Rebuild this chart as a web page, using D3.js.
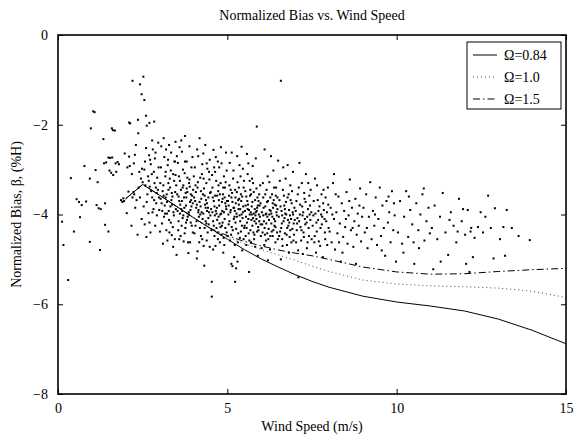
<!DOCTYPE html>
<html>
<head>
<meta charset="utf-8">
<script src="https://cdn.jsdelivr.net/npm/d3@7"></script>
<style>
  body { margin: 0; background: #fff; }
  svg text { font-family: "Liberation Serif", "Times New Roman", serif; font-size: 14px; fill: #000; }
</style>
</head>
<body>
<svg id="chart" width="582" height="435"></svg>
<script>
const xTicks = [0, 5, 10, 15]
const yTicks = [-8, -6, -4, -2, 0]
const legendLabels = ['Ω=0.84', 'Ω=1.0', 'Ω=1.5']

// model curves
const windGrid = [2, 2.5, 3, 3.5, 4, 4.5, 5, 5.5, 6, 6.5, 7, 7.5, 8, 9, 10, 11, 12, 13, 14, 15]
const biasOmega084 = [-3.65, -3.33, -3.57, -3.82, -4.07, -4.31, -4.55, -4.78, -4.99, -5.17, -5.34, -5.49, -5.62, -5.82, -5.95, -6.04, -6.15, -6.33, -6.58, -6.88]
const biasOmega10 = [-3.65, -3.33, -3.57, -3.82, -4.07, -4.31, -4.5, -4.65, -4.78, -4.9, -5.02, -5.15, -5.27, -5.46, -5.55, -5.59, -5.61, -5.64, -5.71, -5.85]
const biasOmega15 = [-3.65, -3.33, -3.57, -3.82, -4.07, -4.31, -4.47, -4.6, -4.7, -4.79, -4.86, -4.92, -5.0, -5.17, -5.28, -5.33, -5.32, -5.27, -5.23, -5.2]

// measured samples "wind,bias"
const samples = `
0.12,-4.16 0.16,-4.68 0.30,-5.46 0.38,-3.19 0.47,-4.38 0.55,-3.66 0.62,-3.72 0.70,-3.79 0.78,-2.92 0.83,-3.71
0.65,-4.06 0.94,-4.61 0.94,-3.20 0.97,-2.08 1.04,-1.70 1.08,-1.72 1.11,-3.01 1.14,-3.79 1.17,-3.28 1.20,-3.86
1.24,-4.79 1.26,-3.88 1.34,-2.32 1.36,-2.86 1.39,-3.75 1.39,-4.23 1.42,-2.84 1.49,-4.38 1.49,-2.73 1.52,-3.02
1.54,-2.74 1.57,-3.07 1.59,-2.08 1.60,-2.73 1.62,-2.12 1.63,-3.12 1.68,-2.13 1.70,-2.86 1.72,-3.05 1.76,-2.83
1.80,-2.88 1.86,-3.68 1.90,-3.72 1.93,-3.64 1.95,-3.70 1.97,-2.64 2.03,-3.97 2.05,-2.95 2.08,-3.49 2.10,-1.95
2.10,-2.71 2.12,-2.92 2.13,-1.97
2.20,-1.02 2.36,-1.89 2.37,-2.19 2.42,-1.10 2.47,-1.32 2.52,-0.93 2.55,-1.45 2.60,-1.80 2.62,-2.02 2.70,-1.96
2.84,-1.93 2.78,-2.35 2.27,-2.67 2.24,-2.86 2.30,-2.45
2.17,-4.25 2.23,-3.50 2.25,-3.55 2.32,-3.68 2.40,-3.05 2.45,-3.20 2.47,-4.10 2.50,-3.28 2.18,-3.10 2.28,-3.85
2.35,-4.45 2.42,-3.62 2.48,-2.98 2.20,-3.62 2.38,-3.40
2.55,-3.00 2.58,-3.35 2.62,-3.72 2.67,-3.97 2.70,-4.18 2.66,-3.15 2.72,-2.78 2.75,-3.48 2.78,-3.62 2.80,-2.55
2.82,-3.88 2.85,-3.30 2.88,-2.62 2.90,-3.75 2.92,-4.02 2.95,-3.45 2.97,-2.95 2.60,-2.52 2.64,-3.55 2.69,-2.68
2.73,-4.40 2.77,-3.10 2.83,-3.05 2.87,-4.25 2.93,-3.18 2.98,-3.62 2.56,-4.22 2.71,-3.38 2.86,-2.75 2.96,-2.40
2.61,-4.50 2.79,-3.95 2.91,-3.52 2.53,-3.82 2.68,-3.25 2.84,-3.68 2.99,-3.90 2.74,-2.88 2.89,-3.40 2.57,-2.82
3.02,-3.30 3.05,-2.48 3.08,-3.92 3.10,-4.65 3.12,-3.58 3.14,-2.72 3.16,-3.98 3.18,-3.05 3.20,-4.35 3.22,-3.72
3.24,-2.90 3.26,-3.45 3.28,-4.12 3.30,-3.20 3.32,-3.82 3.34,-2.62 3.36,-4.46 3.38,-3.60 3.40,-3.10 3.42,-4.02
3.44,-2.82 3.46,-3.50 3.48,-3.88 3.50,-4.90 3.03,-3.65 3.07,-4.20 3.11,-3.35 3.15,-3.80 3.19,-2.55 3.23,-4.58
3.27,-3.92 3.31,-3.40 3.35,-3.68 3.39,-4.28 3.43,-3.25 3.47,-2.38 3.04,-2.95 3.09,-3.48 3.13,-4.05 3.17,-3.15
3.21,-3.55 3.25,-2.78 3.29,-4.40 3.33,-3.02 3.37,-3.78 3.41,-3.95 3.45,-4.55 3.49,-3.35 3.06,-3.75 3.28,-2.45
3.45,-2.82 3.18,-3.62 3.36,-3.52 3.12,-2.30 3.40,-4.72 3.22,-3.98 3.47,-3.12 3.01,-4.38 3.33,-4.18 3.26,-3.30
3.52,-3.55 3.54,-2.85 3.56,-4.15 3.58,-3.70 3.60,-3.25 3.62,-4.48 3.64,-3.88 3.66,-2.60 3.68,-3.40 3.70,-4.02
3.72,-3.62 3.74,-3.08 3.76,-4.30 3.78,-3.80 3.80,-2.82 3.82,-3.50 3.84,-4.62 3.86,-3.95 3.88,-3.22 3.90,-3.72
3.92,-4.18 3.94,-2.95 3.96,-3.58 3.98,-4.40 3.53,-3.92 3.57,-3.15 3.61,-3.78 3.65,-4.25 3.69,-3.00 3.73,-3.85
3.77,-3.52 3.81,-4.12 3.85,-4.86 3.89,-3.38 3.93,-3.68 3.97,-2.72 3.55,-4.35 3.59,-2.50 3.63,-3.45 3.67,-3.92
3.71,-4.60 3.75,-2.82 3.79,-3.62 3.83,-4.05 3.87,-3.30 3.91,-3.90 3.95,-4.25 3.99,-3.45 3.51,-2.70 3.66,-3.70
3.74,-4.42 3.88,-2.48 3.60,-3.98 3.82,-3.18 3.94,-3.82 3.70,-3.35 3.56,-3.60 3.78,-4.18 3.92,-3.55 3.64,-2.35
3.86,-4.00 3.75,-2.25 3.98,-3.75 3.68,-4.08 3.80,-3.42 3.58,-4.55 3.90,-4.62
4.02,-3.62 4.04,-2.95 4.06,-4.25 4.08,-3.85 4.10,-4.98 4.12,-3.40 4.14,-2.70 4.16,-4.05 4.18,-3.72 4.20,-3.18
4.22,-4.48 4.24,-3.95 4.26,-2.88 4.28,-3.55 4.29,-2.64 4.30,-4.70 4.32,-5.14 4.34,-3.78 4.36,-4.15 4.38,-3.30
4.39,-2.86 4.40,-3.92 4.42,-4.40 4.44,-3.62 4.46,-3.05 4.48,-4.72 4.50,-4.02 4.03,-4.42 4.07,-3.50 4.11,-2.55
4.15,-3.90 4.19,-4.30 4.23,-3.65 4.27,-4.10 4.31,-3.42 4.35,-2.45 4.39,-4.58 4.43,-3.85 4.47,-3.22 4.05,-3.70
4.09,-4.15 4.13,-3.28 4.17,-4.62 4.21,-3.82 4.25,-3.10 4.29,-3.98 4.33,-4.30 4.37,-3.68 4.41,-2.98 4.45,-4.22
4.49,-3.52 4.01,-3.15 4.18,-2.30 4.33,-3.58 4.44,-4.08 4.12,-4.82 4.26,-4.55 4.36,-3.85 4.48,-2.78 4.22,-3.48
4.06,-3.35 4.40,-3.75 4.14,-3.95 4.30,-3.20 4.46,-3.95 4.20,-4.00 4.38,-4.20 4.10,-3.78
4.52,-3.88 4.54,-5.50 4.54,-5.83 4.56,-3.40 4.58,-4.15 4.59,-2.56 4.60,-3.70 4.62,-4.48 4.64,-3.05 4.66,-3.92
4.68,-4.30 4.70,-3.58 4.72,-2.82 4.74,-4.05 4.76,-3.80 4.78,-4.62 4.80,-3.30 4.82,-3.98 4.83,-2.86 4.84,-4.25
4.86,-3.65 4.88,-4.85 4.90,-3.15 4.92,-4.10 4.94,-3.75 4.96,-2.62 4.98,-4.40 4.53,-4.35 4.57,-3.62 4.61,-2.95
4.65,-4.70 4.69,-3.85 4.73,-3.48 4.77,-4.20 4.81,-2.50 4.85,-3.92 4.89,-4.52 4.93,-3.40 4.97,-3.88 4.55,-3.12
4.63,-4.02 4.67,-3.25 4.71,-4.40 4.75,-3.68 4.79,-4.00 4.87,-3.55 4.91,-4.68 4.95,-3.28 4.99,-3.70 4.58,-4.78
4.66,-2.72 4.74,-3.35 4.82,-4.45 4.90,-3.95 4.98,-3.02 4.62,-3.82 4.70,-4.12 4.78,-3.55 4.86,-4.18 4.94,-4.30
4.51,-3.50 4.60,-4.25 4.76,-2.95 4.92,-3.62 4.84,-3.72 4.68,-3.98 4.56,-3.95 4.80,-4.28 4.96,-3.82 4.72,-4.55
4.64,-3.58 4.88,-3.40
5.02,-3.70 5.04,-4.22 5.06,-3.35 5.08,-4.58 5.10,-3.90 5.12,-5.10 5.13,-2.62 5.14,-3.52 5.16,-4.35 5.18,-3.02
5.20,-3.85 5.22,-4.68 5.23,-5.50 5.24,-3.62 5.26,-5.20 5.28,-4.05 5.30,-3.28 5.32,-4.42 5.34,-3.78 5.36,-2.90
5.38,-4.15 5.40,-3.55 5.42,-2.49 5.44,-4.80 5.46,-3.95 5.48,-3.40 5.50,-4.30 5.03,-4.00 5.07,-2.85 5.11,-4.45
5.15,-3.72 5.19,-4.10 5.23,-3.45 5.27,-3.98 5.31,-4.62 5.35,-3.65 5.39,-3.15 5.43,-4.25 5.47,-3.82 5.05,-3.58
5.09,-3.95 5.13,-4.28 5.17,-3.20 5.21,-4.05 5.25,-3.75 5.29,-2.70 5.33,-3.88 5.37,-4.52 5.41,-3.70 5.45,-4.08
5.49,-3.25 5.01,-4.48 5.12,-3.62 5.20,-4.95 5.28,-3.50 5.36,-4.02 5.44,-3.60 5.15,-5.15 5.30,-5.05 5.06,-4.15
5.18,-3.85 5.26,-4.32 5.34,-3.40 5.42,-4.00 5.48,-4.55 5.10,-3.45 5.22,-3.92 5.38,-3.88 5.46,-2.98 5.04,-3.80
5.32,-3.68 5.24,-4.18 5.40,-4.38
5.52,-3.92 5.54,-4.48 5.56,-3.60 5.58,-4.18 5.60,-3.10 5.62,-2.86 5.64,-5.28 5.66,-4.00 5.68,-3.45 5.70,-4.62
5.72,-3.82 5.74,-4.25 5.76,-3.30 5.78,-3.98 5.80,-4.45 5.82,-3.68 5.84,-2.75 5.86,-4.10 5.87,-2.04 5.88,-3.85
5.90,-4.92 5.92,-4.35 5.94,-3.55 5.96,-4.05 5.98,-3.75 5.53,-3.48 5.57,-4.30 5.61,-3.78 5.65,-4.58 5.69,-3.95
5.73,-3.20 5.77,-4.40 5.81,-3.88 5.85,-4.20 5.89,-3.62 5.93,-4.00 5.97,-3.35 5.55,-4.05 5.59,-3.70 5.63,-4.42
5.67,-3.58 5.71,-4.12 5.75,-2.92 5.79,-4.55 5.83,-4.02 5.87,-3.92 5.91,-4.28 5.95,-3.80 5.99,-4.48 5.51,-4.25
5.60,-3.88 5.68,-4.35 5.76,-4.08 5.84,-3.95 5.92,-3.70 5.58,-2.65 5.70,-3.55 5.82,-4.72 5.94,-4.15 5.64,-3.90
5.78,-3.50 5.88,-4.38 5.56,-4.68 5.72,-4.00 5.86,-3.42 5.98,-4.22 5.66,-3.25 5.80,-4.15 5.62,-4.10 5.74,-3.72
5.90,-3.80 5.54,-3.80
6.02,-3.95 6.04,-4.40 6.06,-3.62 6.08,-4.15 6.10,-2.55 6.12,-3.82 6.14,-4.58 6.16,-3.45 6.18,-4.05 6.20,-3.70
6.22,-4.32 6.24,-3.28 6.26,-4.78 6.28,-3.92 6.30,-4.20 6.32,-3.55 6.34,-4.48 6.36,-3.02 6.38,-4.10 6.40,-3.78
6.42,-4.62 6.44,-3.40 6.46,-4.02 6.48,-3.88 6.50,-2.80 6.03,-4.22 6.07,-3.85 6.11,-4.45 6.15,-3.98 6.19,-3.15
6.23,-4.12 6.27,-3.62 6.31,-4.38 6.35,-3.85 6.39,-4.25 6.43,-3.58 6.47,-4.40 6.05,-3.30 6.09,-4.68 6.13,-4.00
6.17,-3.72 6.21,-4.55 6.25,-3.90 6.29,-2.70 6.33,-4.05 6.37,-3.68 6.41,-4.15 6.45,-3.95 6.49,-4.55 6.06,-4.02
6.18,-4.42 6.30,-3.98 6.42,-4.28 6.12,-3.55 6.24,-4.00 6.36,-4.35 6.48,-3.62 6.01,-4.75 6.20,-5.02 6.38,-3.40
6.15,-4.20 6.27,-4.48 6.44,-3.80 6.10,-4.30 6.34,-3.75
6.52,-4.05 6.54,-3.68 6.56,-4.38 6.58,-1.02 6.60,-3.92 6.62,-4.55 6.64,-3.45 6.66,-4.15 6.68,-3.80 6.70,-4.42
6.72,-3.20 6.74,-4.00 6.76,-4.68 6.78,-3.62 6.80,-4.25 6.82,-3.90 6.84,-4.50 6.86,-3.35 6.88,-4.10 6.90,-3.75
6.92,-4.32 6.94,-3.05 6.96,-4.20 6.98,-3.85 6.53,-4.48 6.57,-3.82 6.61,-4.20 6.65,-2.95 6.69,-4.08 6.73,-3.72
6.77,-4.30 6.81,-3.55 6.85,-4.02 6.89,-4.62 6.93,-3.95 6.97,-4.45 6.55,-3.25 6.63,-4.70 6.71,-3.98 6.79,-4.12
6.87,-3.68 6.95,-4.58 6.59,-4.30 6.67,-3.58 6.75,-4.45 6.83,-4.18 6.91,-3.48 6.99,-4.12 6.62,-4.02 6.78,-2.90
6.94,-4.00 6.70,-3.88 6.86,-4.35 6.58,-5.00 6.82,-4.85
7.02,-3.92 7.05,-4.35 7.08,-3.55 7.10,-5.40 7.12,-4.15 7.15,-3.78 7.18,-4.58 7.20,-3.30 7.22,-4.02 7.25,-4.40
7.28,-3.65 7.30,-4.22 7.32,-3.10 7.35,-4.75 7.38,-3.88 7.40,-4.30 7.42,-3.58 7.45,-4.12 7.48,-3.95 7.03,-4.62
7.07,-4.08 7.11,-3.40 7.16,-4.28 7.21,-3.82 7.26,-4.50 7.31,-3.72 7.36,-4.05 7.41,-4.48 7.46,-3.45 7.04,-3.70
7.14,-4.00 7.24,-3.95 7.34,-4.18 7.44,-3.80 7.09,-4.80 7.19,-4.35 7.29,-4.10 7.39,-3.30 7.49,-4.55 7.13,-2.85
7.27,-3.52 7.37,-4.62 7.06,-4.20 7.23,-4.88 7.43,-4.00
7.52,-4.25 7.55,-3.70 7.58,-4.48 7.60,-3.98 7.62,-4.85 7.65,-3.35 7.68,-4.12 7.70,-4.60 7.72,-3.82 7.75,-4.30
7.78,-3.55 7.80,-4.05 7.82,-4.95 7.85,-3.90 7.88,-4.40 7.90,-3.62 7.92,-4.15 7.95,-4.68 7.98,-3.78 7.54,-4.02
7.59,-3.20 7.64,-4.38 7.69,-3.92 7.74,-4.70 7.79,-4.22 7.84,-3.45 7.89,-4.55 7.94,-3.95 7.99,-4.30 7.57,-4.62
7.67,-3.68 7.77,-4.00 7.87,-4.10 7.97,-3.40 7.63,-4.18 7.83,-3.75
8.02,-4.38 8.05,-3.85 8.08,-4.62 8.12,-3.30 8.15,-4.10 8.18,-4.78 8.22,-3.95 8.25,-4.42 8.28,-3.60 8.32,-4.20
8.35,-5.05 8.38,-3.75 8.42,-4.50 8.45,-3.92 8.48,-4.28 8.52,-3.50 8.55,-4.65 8.58,-4.02 8.62,-3.22 8.65,-4.35
8.68,-3.85 8.72,-4.72 8.75,-4.15 8.78,-3.65 8.82,-4.45 8.85,-3.98 8.88,-4.25 8.92,-3.42 8.95,-4.60 8.98,-4.05
8.10,-4.00 8.30,-4.62 8.50,-4.10 8.70,-4.30 8.90,-3.80 8.20,-3.55 8.40,-4.85 8.60,-3.70 8.80,-5.10 8.15,-3.10
9.02,-3.85 9.06,-4.40 9.10,-3.55 9.14,-4.75 9.18,-4.05 9.22,-3.28 9.26,-4.55 9.30,-3.92 9.34,-4.25 9.38,-3.62
9.42,-4.68 9.46,-4.10 9.50,-3.40 9.54,-4.48 9.58,-3.80 9.62,-4.30 9.66,-4.92 9.70,-3.70 9.74,-4.18 9.78,-3.95
9.82,-4.62 9.86,-3.48 9.90,-4.35 9.94,-4.02 9.98,-5.05 9.12,-4.30 9.36,-4.00 9.56,-4.80 9.76,-3.60 9.92,-3.75
10.04,-4.40 10.10,-3.70 10.16,-4.65 10.22,-4.05 10.28,-3.48 10.34,-4.50 10.40,-3.90 10.46,-4.22 10.52,-5.10 10.58,-3.75
10.64,-4.35 10.70,-4.00 10.76,-3.55 10.82,-4.58 10.88,-4.15 10.94,-3.85 10.20,-4.85 10.50,-4.62 10.80,-3.42 10.98,-4.42
10.36,-3.60 10.66,-4.75
11.04,-4.30 11.12,-3.80 11.20,-4.55 11.28,-4.05 11.36,-3.52 11.44,-4.40 11.52,-4.90 11.60,-3.95 11.68,-4.25 11.76,-4.62
11.84,-3.65 11.92,-4.15 11.08,-5.22 11.30,-5.05 11.56,-4.12 11.80,-4.38 11.96,-3.88
12.02,-4.45 12.10,-3.90 12.20,-4.30 12.30,-4.52 12.40,-4.28 12.48,-3.95 12.55,-4.40 12.62,-4.05 12.70,-3.58 12.78,-4.30
12.86,-4.98 12.90,-3.86 12.05,-5.10 12.15,-5.28 12.25,-4.95 12.18,-4.38
13.05,-4.55 13.20,-4.92 13.25,-3.90 13.40,-4.30 13.60,-4.48 13.93,-4.57 13.15,-4.28
`

const points = samples.trim().split(/\s+/).map(s => {
  const [w, b] = s.split(',').map(Number)
  return {wind: w, bias: b}
})

const width = 582
const height = 435
const margin = {top: 35, right: 16, bottom: 41, left: 58}

const svg = d3.select('#chart')

const x = d3.scaleLinear().domain([0, 15]).range([margin.left, width - margin.right])
const y = d3.scaleLinear().domain([-8, 0]).range([height - margin.bottom, margin.top])

const fmt = d => d < 0 ? '\u2212' + Math.abs(d) : String(d)

// scatter
svg.append('g')
  .selectAll('rect')
  .data(points)
  .join('rect')
  .attr('x', d => x(d.wind) - 1)
  .attr('y', d => y(d.bias) - 1)
  .attr('width', 2)
  .attr('height', 2)
  .attr('fill', '#000')

// curves
const series = [
  {label: legendLabels[0], values: biasOmega084, dash: null, color: '#000'},
  {label: legendLabels[1], values: biasOmega10, dash: '1,3', color: '#444'},
  {label: legendLabels[2], values: biasOmega15, dash: '7,3,1.5,3', color: '#000'}
]

const line = d3.line()
  .x(d => x(d[0]))
  .y(d => y(d[1]))

svg.append('g')
  .selectAll('path')
  .data(series.slice().reverse())
  .join('path')
  .attr('d', s => line(windGrid.map((w, i) => [w, s.values[i]])))
  .attr('fill', 'none')
  .attr('stroke', s => s.color)
  .attr('stroke-width', 1)
  .attr('stroke-dasharray', s => s.dash)

// axes with inward ticks on all four sides
const tickLen = 5
svg.append('g')
  .attr('transform', `translate(0,${y(-8)})`)
  .call(d3.axisBottom(x).tickValues(xTicks).tickSize(-tickLen).tickPadding(9).tickFormat(fmt))
svg.append('g')
  .attr('transform', `translate(0,${y(0)})`)
  .call(d3.axisTop(x).tickValues(xTicks).tickSize(-tickLen).tickFormat(''))
svg.append('g')
  .attr('transform', `translate(${x(0)},0)`)
  .call(d3.axisLeft(y).tickValues(yTicks).tickSize(-tickLen).tickPadding(10).tickFormat(fmt))
svg.append('g')
  .attr('transform', `translate(${x(15)},0)`)
  .call(d3.axisRight(y).tickValues(yTicks).tickSize(-tickLen).tickFormat(''))

svg.selectAll('.domain').remove()
svg.selectAll('.tick line').attr('stroke', '#000').attr('stroke-width', 1)
svg.selectAll('.tick text')
  .style('font-family', '"Liberation Serif", serif')
  .style('font-size', '14px')
  .attr('fill', '#000')

svg.append('rect')
  .attr('x', x(0))
  .attr('y', y(0))
  .attr('width', x(15) - x(0))
  .attr('height', y(-8) - y(0))
  .attr('fill', 'none')
  .attr('stroke', '#000')
  .attr('stroke-width', 1.6)

// titles
svg.append('text')
  .attr('x', (x(0) + x(15)) / 2)
  .attr('y', 20)
  .attr('text-anchor', 'middle')
  .text('Normalized Bias vs. Wind Speed')

svg.append('text')
  .attr('x', (x(0) + x(15)) / 2)
  .attr('y', 431)
  .attr('text-anchor', 'middle')
  .text('Wind Speed (m/s)')

svg.append('text')
  .attr('transform', `translate(21,${(y(0) + y(-8)) / 2}) rotate(-90)`)
  .attr('text-anchor', 'middle')
  .text('Normalized Bias, β, (%H)')

// legend
const legend = svg.append('g').attr('transform', 'translate(467,42)')
legend.append('rect')
  .attr('width', 94)
  .attr('height', 67)
  .attr('fill', '#fff')
  .attr('stroke', '#000')
  .attr('stroke-width', 1)

const item = legend.selectAll('g.item')
  .data(series)
  .join('g')
  .attr('class', 'item')
  .attr('transform', (d, i) => `translate(0,${13 + i * 22})`)

item.append('line')
  .attr('x1', 6)
  .attr('x2', 30)
  .attr('stroke', d => d.color)
  .attr('stroke-dasharray', d => d.dash)
item.append('text')
  .attr('x', 37)
  .attr('dy', '0.35em')
  .text(d => d.label)
</script>
</body>
</html>
